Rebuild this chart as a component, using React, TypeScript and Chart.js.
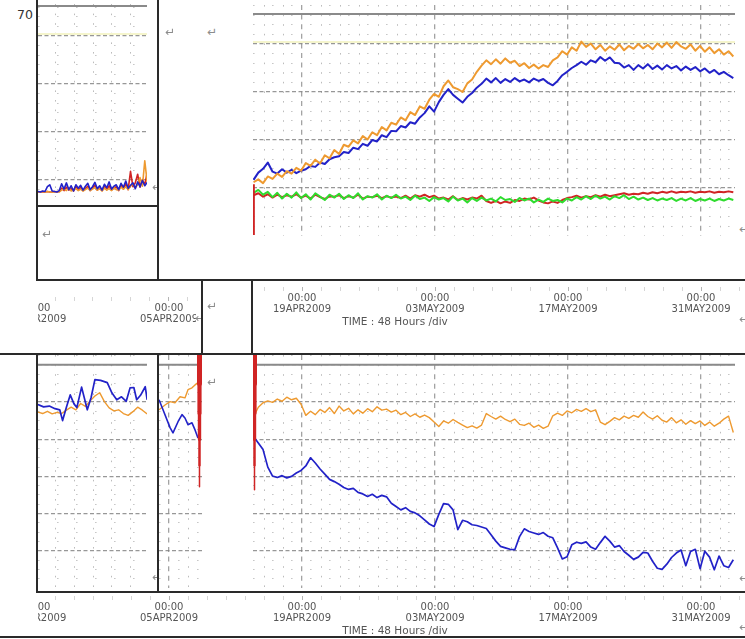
import React, { useEffect, useRef } from 'react';
import Chart from 'chart.js/auto';

// ---------------- axis text ----------------
const MAJOR_TICK_DAYS = [-28, -14, 0, 14, 28, 42]; // days from 19APR2009 00:00
const MAJOR_TICK_DATES = ['22MAR2009', '05APR2009', '19APR2009', '03MAY2009', '17MAY2009', '31MAY2009'];
const MAJOR_TICK_TIME = '00:00';
const MINOR_STEP_DAYS = 2; // 48 hours / div
const AXIS_TITLE = 'TIME : 48 Hours /div';
const CORNER_LABEL = '70';

// ---------------- limit lines ----------------
const UPPER_GRAY_LIMIT = 46.25;
const UPPER_YELLOW_LIMIT = 40.4;
const LOWER_GRAY_LIMIT = 60;

// ---------------- top-left panel (sampled every 6 h) ----------------
const TL_T0 = -27.8;
const TL_STEP = 0.25;
const tlBlue = [7.6, 7.5, 7.7, 7.6, 8.6, 9.0, 7.7, 7.6, 7.5, 7.8,
  9.2, 8.1, 9.4, 8.0, 8.8, 7.7, 9.0, 8.3, 8.9, 7.9,
  8.7, 9.3, 8.0, 8.6, 9.5, 8.2, 8.8, 7.9, 9.1, 8.4,
  9.6, 8.1, 8.7, 9.0, 8.0, 9.3, 8.5, 9.8, 8.3, 8.9,
  9.4, 8.2, 9.6, 8.6, 9.9, 8.8, 9.5];
const tlRed = [7.5, 7.5, 7.5, 7.5, 7.6, 7.5, 7.5, 7.6, 7.5, 7.6,
  8.3, 7.8, 8.5, 7.9, 8.2, 7.7, 8.6, 7.9, 8.4, 7.8,
  8.2, 8.7, 7.8, 8.4, 8.9, 7.9, 8.3, 7.8, 8.6, 8.0,
  8.8, 7.9, 8.3, 8.6, 7.8, 8.9, 8.1, 9.2, 8.0, 11.8,
  8.6, 9.4, 11.2, 8.5, 10.1, 9.0, 11.5];
const tlOrange = [7.5, 7.5, 7.6, 7.5, 7.6, 7.5, 7.5, 7.5, 7.6, 7.5,
  7.9, 8.1, 7.8, 8.3, 7.7, 8.0, 8.2, 7.8, 8.1, 7.7,
  8.0, 8.3, 7.8, 8.1, 8.4, 7.9, 8.2, 7.7, 8.3, 7.9,
  8.2, 7.8, 8.4, 8.0, 7.9, 8.5, 8.1, 8.6, 8.0, 8.7,
  9.2, 8.4, 9.0, 10.5, 8.7, 14.0, 9.6];

// ---------------- right panels (sampled every 12 h) ----------------
const R_T0 = -5.1;
const R_STEP = 0.5;
const trOrange = [11.2, 11.8, 11.0, 12.4, 11.9, 13.0, 12.3, 13.5, 13.0, 14.2,
  13.6, 15.2, 14.6, 15.9, 15.1, 16.8, 16.2, 17.9, 17.1, 19.0,
  18.6, 19.9, 19.3, 20.8, 20.1, 21.6, 21.0, 22.7, 22.0, 23.6,
  23.2, 24.7, 24.1, 25.8, 25.2, 27.0, 26.5, 28.4, 29.6, 29.0,
  31.2, 32.4, 31.0, 30.6, 30.0, 31.8, 32.6, 34.2, 35.5, 36.6,
  35.8, 36.8, 35.9, 37.0, 36.1, 36.5, 35.4, 36.0, 35.0, 35.7,
  34.9, 35.6, 35.2, 36.6, 37.2, 38.5, 37.8, 39.3, 38.6, 40.5,
  39.4, 40.1, 38.9, 39.8, 38.6, 39.5, 38.8, 39.9, 38.7, 39.6,
  39.0, 40.0, 39.1, 39.8, 38.9, 40.1, 39.3, 40.3, 39.2, 40.4,
  39.5, 39.0, 39.9, 38.6, 39.6, 38.4, 39.3, 38.1, 38.9, 37.8,
  38.5, 37.4];
const trBlue = [11.7, 13.2, 14.0, 15.3, 13.4, 13.0, 13.9, 13.2, 13.8, 13.1,
  13.6, 13.9, 14.6, 14.4, 15.3, 15.0, 16.0, 16.4, 16.6, 17.5,
  17.3, 18.4, 18.1, 19.2, 18.8, 20.0, 19.7, 21.0, 20.6, 21.9,
  21.8, 22.9, 22.6, 23.7, 23.4, 24.7, 25.6, 27.0, 25.9, 27.9,
  29.4, 30.6, 29.4, 28.6, 27.8, 29.0, 29.8, 30.9, 31.7, 32.8,
  32.0, 32.9, 31.9, 32.7, 32.1, 32.9, 32.2, 32.6, 32.0, 32.8,
  32.3, 32.7, 31.9, 31.4, 32.3, 33.5, 34.2, 35.0, 35.6, 36.3,
  35.7, 36.6, 36.2, 37.3, 36.5, 37.2, 36.1, 36.0, 35.1, 35.6,
  34.6, 35.6, 34.9, 35.8, 34.8, 35.5, 34.7, 35.6, 34.9, 35.4,
  34.5, 35.3, 34.6, 35.2, 34.3, 34.9, 34.0, 34.6, 33.7, 34.2,
  33.5, 32.9];
const trGreen = [9.0, 9.6, 8.6, 9.2, 8.1, 9.0, 7.8, 8.8, 8.0, 9.1,
  7.9, 8.7, 7.6, 8.9, 8.2, 7.5, 8.6, 8.0, 8.8, 7.7,
  8.5, 7.9, 8.9, 7.6, 8.3, 8.0, 8.7, 7.6, 8.4, 7.9,
  8.6, 7.8, 8.2, 7.5, 8.4, 7.7, 8.0, 7.3, 8.1, 7.6,
  7.9, 7.2, 8.2, 7.4, 7.8, 7.0, 7.9, 7.3, 8.0, 7.4,
  7.8, 7.2, 8.1, 7.5, 7.7, 7.1, 7.9, 7.4, 7.8, 7.0,
  7.6, 7.1, 7.8, 7.3, 7.5, 7.0, 7.8, 7.4, 8.1, 7.6,
  8.3, 7.7, 8.4, 7.8, 8.2, 7.6, 8.3, 7.9, 8.5, 7.7,
  8.2, 7.6, 8.0, 7.5, 7.9, 7.4, 7.8, 7.5, 7.9, 7.3,
  7.8, 7.4, 7.9, 7.3, 7.7, 7.4, 7.8, 7.3, 7.7, 7.4,
  7.8, 7.5];
const trRed = [8.5, 8.9, 8.2, 8.7, 8.0, 8.6, 8.1, 8.5, 8.2, 8.7,
  8.0, 8.4, 7.8, 8.6, 8.1, 7.7, 8.3, 8.2, 8.5, 7.9,
  8.3, 8.0, 8.6, 7.8, 8.2, 8.1, 8.4, 7.9, 8.3, 8.0,
  8.2, 7.9, 8.4, 7.8, 8.5, 8.2, 8.6, 8.1, 8.4, 7.8,
  8.0, 7.6, 8.3, 7.5, 7.9, 7.6, 8.0, 7.8, 8.4, 7.3,
  6.9, 7.3, 6.8, 7.2, 6.9, 7.5, 7.3, 7.8, 7.6, 8.0,
  7.4, 7.0, 6.8, 7.2, 6.9, 7.5, 7.9, 8.1, 8.4, 8.0,
  8.3, 8.1, 8.5, 8.2, 8.6, 8.3, 8.5, 8.7, 8.9, 8.6,
  8.8, 8.7, 9.0, 8.8, 9.1, 8.9, 9.2, 9.0, 9.3, 9.0,
  9.2, 9.1, 9.3, 9.0, 9.2, 9.1, 9.3, 9.0, 9.2, 9.1,
  9.3, 9.1];
const trRedSpikeDays = [-5.1, -5.1];
const trRedSpike = [0.2, 10.8];

const brOrange = [46.0, 48.6, 49.8, 50.3, 49.9, 50.8, 50.2, 51.3, 50.6, 51.0,
  49.4, 46.4, 47.5, 46.6, 48.0, 47.2, 48.5, 46.9, 48.9, 47.6,
  48.3, 46.8, 47.9, 47.0, 48.2, 47.4, 48.7, 47.8, 48.1, 47.3,
  47.8, 46.6, 47.2, 46.1, 46.8, 45.9, 46.5, 45.8, 44.6, 43.4,
  44.9, 44.3, 45.3, 44.5, 43.8, 43.1, 43.6, 43.0, 43.8, 46.9,
  46.1, 45.4, 46.2, 45.3, 44.7, 45.4, 44.0, 43.7, 44.3, 43.2,
  43.8, 42.9, 43.5, 46.3, 47.0, 46.4, 47.6, 47.1, 48.0, 47.5,
  48.2, 47.4, 47.9, 44.6, 43.9, 44.8, 45.8, 45.2, 46.2, 45.6,
  46.4, 45.9, 47.3, 46.1, 45.4, 46.3, 45.1, 44.6, 45.8, 44.4,
  45.2, 44.0, 45.0, 44.2, 44.9, 43.7, 44.6, 43.5, 44.3, 45.4,
  46.2, 41.8];
const brBlue = [40.7, 39.0, 37.2, 32.5, 30.1, 29.7, 30.2, 29.6, 30.0, 30.9,
  31.6, 32.8, 35.0, 33.6, 32.0, 30.6, 29.2, 28.6, 27.9, 27.0,
  26.5, 26.8, 25.7, 25.3, 24.6, 25.2, 24.3, 24.9, 24.5, 22.8,
  21.9, 21.0, 21.6, 20.6, 20.2, 19.4, 18.3, 17.2, 16.5, 19.8,
  22.7, 22.5, 21.0, 15.7, 18.2, 17.8, 17.0, 16.8, 16.4, 16.0,
  14.3, 12.6, 11.2, 10.8, 10.4, 10.3, 13.8, 15.9, 15.2, 14.8,
  14.4, 14.9, 13.9, 13.5, 10.8, 7.8, 8.4, 11.6, 12.3, 12.0,
  12.4, 11.0, 10.4, 12.2, 13.9, 12.6, 11.0, 11.4, 9.8, 8.8,
  7.7, 8.3, 9.6, 9.4, 7.2, 5.3, 5.0, 6.4, 8.2, 9.4,
  10.2, 6.0, 9.8, 10.4, 5.2, 9.9, 8.3, 4.9, 8.6, 6.0,
  5.5, 7.6];
const brRedDays = [-5.0, -5.0, -5.0, -5.0, -5.0, -5.0];
const brRed = [62.7, 55, 47, 40, 33, 26.4];

// ---------------- bottom-left panel ----------------
const blOrangeDays = [-27.8, -27.3, -26.8, -26.3, -25.8, -25.3, -24.8, -24.3, -23.8, -23.3, -22.8, -22.3,
  -21.8, -21.3, -20.8, -20.3, -19.8, -19.3, -18.8, -18.3, -17.8, -17.3, -16.8, -16.3];
const blOrange = [47.3, 46.9, 47.5, 46.8, 47.2, 46.9, 47.8, 48.6, 47.9, 49.6, 48.8, 50.3,
  51.6, 52.5, 50.1, 48.4, 47.6, 47.9, 46.9, 46.4, 47.4, 48.6, 47.8, 46.8];
const blBlueDays = [-27.8, -27.2, -26.6, -26.0, -25.5, -25.2, -24.8, -24.4, -24.0, -23.7, -23.2, -22.6, -22.2,
  -21.8, -21.2, -20.5, -20.0, -19.5, -19.0, -18.5, -18.1, -17.7, -17.4, -17.0, -16.5, -16.3];
const blBlue = [49.3, 48.7, 48.9, 48.2, 47.9, 45.0, 48.6, 51.9, 49.5, 48.5, 54.0, 47.9, 51.2,
  56.0, 55.8, 55.2, 52.4, 50.6, 51.4, 50.2, 53.8, 53.9, 50.6, 51.8, 54.1, 50.6];

// ---------------- bottom-middle panel ----------------
const bmOrangeDays = [-15.05, -14.42, -13.89, -13.37, -12.84, -12.32, -12.0, -11.58, -11.26, -10.95];
const bmOrange = [47.9, 49.2, 50.1, 49.8, 51.4, 51.1, 53.3, 53.8, 54.6, 55.2];
const bmBlueDays = [-15.05, -14.63, -13.89, -13.58, -13.05, -12.63, -12.32, -12.0, -11.58, -11.26, -10.95];
const bmBlue = [50.6, 47.9, 43.1, 41.7, 44.7, 46.6, 45.7, 43.9, 44.4, 42.5, 40.3];
const bmRedDays = [-10.79, -10.79, -10.79, -10.79, -10.79, -10.79];
const bmRed = [62.7, 55, 47, 40, 33, 27.2];

// ---------------- styling / geometry ----------------
const DAY0_X = 302;
const PX_PER_DAY = 9.5;
const dayAtPx = (px: number) => (px - DAY0_X) / PX_PER_DAY;
const FONT = "'DejaVu Sans', sans-serif";
const WEDGE_WIDTHS = [5, 4.2, 3.4, 2.5, 1.5];
const C_ORANGE = '#ee9a30';
const C_BLUE = '#2222c8';
const C_GREEN = '#2edc2e';
const C_RED = '#d02424';
const C_GRAY = '#8a8a8a';
const C_YELLOW = '#f5f5cc';
const STRIP_H = 64;
const STRIP_AXIS_H = 28; // tick 4 + padding 2 + 2 lines * 11

const isMultiple = (v: number, m: number) => Math.abs(v / m - Math.round(v / m)) < 1e-6;
function stepValues(from: number, to: number, step: number) {
  const out: number[] = [];
  for (let k = Math.ceil(from / step - 1e-9); k * step <= to + 1e-9; k++) out.push(+(k * step).toFixed(4));
  return out;
}
const timeBase = (t0: number, step: number, n: number) => Array.from({ length: n }, (_, i) => +(t0 + i * step).toFixed(3));

type Series = { days?: number[]; values?: number[]; hLine?: number; color: string; width: number; segWidths?: number[] };

function PlotPanel({ left, top, width, height, yMin, yMax, yMinorStep, series }: any) {
  const ref = useRef<HTMLCanvasElement>(null);
  useEffect(() => {
    const xMin = dayAtPx(left);
    const xMax = dayAtPx(left + width);
    const xTicks = stepValues(xMin, xMax, MINOR_STEP_DAYS);
    const yTicks = stepValues(yMin, yMax, yMinorStep).filter((v) => v > yMin + 0.01);
    const xMajor = (v: number) => v !== undefined && isMultiple(v, 14);
    const yMajor = (v: number) => v !== undefined && isMultiple(v, 10);
    const datasets = series.map((s: Series) => ({
      data: s.hLine !== undefined
        ? [{ x: xMin, y: s.hLine }, { x: xMax, y: s.hLine }]
        : (s.days as number[]).map((d, i) => ({ x: d, y: (s.values as number[])[i] })),
      borderColor: s.color,
      borderWidth: s.width,
      pointRadius: 0,
      tension: 0,
      fill: false,
      borderCapStyle: 'butt',
      borderJoinStyle: 'round',
      segment: s.segWidths ? { borderWidth: (c: any) => (s.segWidths as number[])[c.p0DataIndex] } : undefined,
    }));
    const chart = new Chart(ref.current as HTMLCanvasElement, {
      type: 'line',
      data: { datasets },
      options: {
        responsive: false,
        animation: false,
        devicePixelRatio: 1,
        events: [],
        layout: { padding: 0, autoPadding: false },
        plugins: { legend: { display: false }, tooltip: { enabled: false } },
        scales: {
          x: {
            type: 'linear', min: xMin, max: xMax, bounds: 'data',
            afterBuildTicks: (axis: any) => { axis.ticks = xTicks.map((value) => ({ value })); },
            ticks: { display: false },
            grid: {
              drawTicks: false,
              color: (c: any) => (xMajor(c.tick?.value) ? 'rgba(140,140,140,0.8)' : 'rgba(160,160,160,0.7)'),
              lineWidth: (c: any) => (xMajor(c.tick?.value) ? 1.3 : 1),
            },
            border: { display: false, dash: (c: any) => (xMajor(c.tick?.value) ? [5, 4.6] : [1.6, 8]) },
          },
          y: {
            type: 'linear', min: yMin, max: yMax, bounds: 'data',
            afterBuildTicks: (axis: any) => { axis.ticks = yTicks.map((value) => ({ value })); },
            ticks: { display: false },
            grid: {
              drawTicks: false,
              color: (c: any) => (yMajor(c.tick?.value) ? 'rgba(125,125,125,0.8)' : 'rgba(175,175,175,0.7)'),
              lineWidth: (c: any) => (yMajor(c.tick?.value) ? 1.3 : 1),
            },
            border: { display: false, dash: (c: any) => (yMajor(c.tick?.value) ? [4, 2.5] : [1.6, 17.4]) },
          },
        },
      },
    } as any);
    return () => chart.destroy();
  }, []);
  return <canvas ref={ref} width={width} height={height} style={{ position: 'absolute', left, top, width, height }} />;
}

// Label row: the tick marks start at y = tickTop; everything above is an empty chart area.
function AxisStrip({ left, tickTop, width }: any) {
  const ref = useRef<HTMLCanvasElement>(null);
  useEffect(() => {
    const xMin = dayAtPx(left);
    const xMax = dayAtPx(left + width);
    const xTicks = stepValues(Math.floor(xMin / MINOR_STEP_DAYS) * MINOR_STEP_DAYS, xMax, MINOR_STEP_DAYS);
    const majorIndex = (v: number) => MAJOR_TICK_DAYS.findIndex((d) => Math.abs(d - v) < 1e-6);
    const chart = new Chart(ref.current as HTMLCanvasElement, {
      type: 'line',
      data: { datasets: [] },
      options: {
        responsive: false,
        animation: false,
        devicePixelRatio: 1,
        events: [],
        layout: { padding: 0, autoPadding: false },
        plugins: { legend: { display: false }, tooltip: { enabled: false } },
        scales: {
          x: {
            type: 'linear', position: 'bottom', min: xMin, max: xMax, bounds: 'data',
            afterBuildTicks: (axis: any) => { axis.ticks = xTicks.map((value) => ({ value })); },
            afterFit: (axis: any) => { axis.paddingLeft = 0; axis.paddingRight = 0; },
            ticks: {
              autoSkip: false, maxRotation: 0, minRotation: 0, padding: 2, color: '#555',
              font: { family: FONT, size: 10, lineHeight: 1.1 },
              callback: (v: any) => {
                const k = majorIndex(Number(v));
                return k >= 0 ? [MAJOR_TICK_TIME, MAJOR_TICK_DATES[k]] : '';
              },
            },
            grid: {
              drawOnChartArea: false, drawTicks: true, tickLength: 4, tickWidth: 1,
              tickColor: (c: any) => (majorIndex(c.tick?.value) >= 0 ? '#b4b4b4' : '#d6d6d6'),
            },
            border: { display: false },
          },
          y: { display: false },
        },
      },
    } as any);
    return () => chart.destroy();
  }, []);
  const top = tickTop - (STRIP_H - STRIP_AXIS_H);
  return <canvas ref={ref} width={width} height={STRIP_H} style={{ position: 'absolute', left, top, width, height: STRIP_H }} />;
}

const Mark = ({ x, y, clip }: { x: number; y: number; clip?: number }) => (
  <div style={{ position: 'absolute', left: x, top: y - 8, width: clip ?? 14, height: 16, overflow: 'hidden',
    color: '#8c8c8c', fontSize: 12, lineHeight: '16px', fontFamily: FONT, whiteSpace: 'nowrap' }}>↵</div>
);

const RULES = [
  [36, 0, 2, 281], [157, 0, 2, 281], [37, 205, 121, 2], [36, 279, 709, 2],
  [201, 280, 2, 74], [251, 280, 2, 74], [0, 353, 745, 2],
  [36, 354, 2, 239], [157, 354, 2, 239], [36, 591, 709, 2], [0, 636, 745, 2],
];

export default function App() {
  const tlDays = timeBase(TL_T0, TL_STEP, tlBlue.length);
  const rDays = timeBase(R_T0, R_STEP, trOrange.length);
  const topLimits: Series[] = [
    { hLine: UPPER_YELLOW_LIMIT, color: C_YELLOW, width: 2 },
    { hLine: UPPER_GRAY_LIMIT, color: C_GRAY, width: 2 },
  ];
  const bottomLimits: Series[] = [{ hLine: LOWER_GRAY_LIMIT, color: C_GRAY, width: 2 }];

  return (
    <div style={{ position: 'absolute', left: 0, top: 0, width: 745, height: 639, overflow: 'hidden', background: '#fff', fontFamily: FONT }}>
      <PlotPanel left={38} top={4} width={109} height={193} yMin={31 / 4.8} yMax={224 / 4.8} yMinorStep={2}
        series={[
          { days: tlDays, values: tlBlue, color: C_BLUE, width: 1.6 },
          { days: tlDays, values: tlOrange, color: C_ORANGE, width: 1.6 },
          { days: tlDays, values: tlRed, color: C_RED, width: 1.6 },
          ...topLimits,
        ]} />
      <PlotPanel left={253} top={5} width={482} height={231} yMin={0} yMax={231 / 4.8} yMinorStep={2}
        series={[
          { days: trRedSpikeDays, values: trRedSpike, color: C_RED, width: 2.6 },
          { days: rDays, values: trOrange, color: C_ORANGE, width: 2 },
          { days: rDays, values: trBlue, color: C_BLUE, width: 2 },
          { days: rDays, values: trGreen, color: C_GREEN, width: 2 },
          { days: rDays, values: trRed, color: C_RED, width: 2 },
          ...topLimits,
        ]} />
      <PlotPanel left={38} top={355} width={109} height={233} yMin={0} yMax={233 / 3.72} yMinorStep={2.5}
        series={[
          { days: blBlueDays, values: blBlue, color: C_BLUE, width: 1.7 },
          { days: blOrangeDays, values: blOrange, color: C_ORANGE, width: 1.4 },
          ...bottomLimits,
        ]} />
      <PlotPanel left={159} top={355} width={43} height={233} yMin={0} yMax={233 / 3.72} yMinorStep={2.5}
        series={[
          { days: bmRedDays, values: bmRed, color: C_RED, width: 4, segWidths: WEDGE_WIDTHS },
          { days: bmBlueDays, values: bmBlue, color: C_BLUE, width: 1.6 },
          { days: bmOrangeDays, values: bmOrange, color: C_ORANGE, width: 1.4 },
          ...bottomLimits,
        ]} />
      <PlotPanel left={253} top={355} width={482} height={233} yMin={0} yMax={233 / 3.72} yMinorStep={2.5}
        series={[
          { days: brRedDays, values: brRed, color: C_RED, width: 4, segWidths: WEDGE_WIDTHS },
          { days: rDays, values: brBlue, color: C_BLUE, width: 1.7 },
          { days: rDays, values: brOrange, color: C_ORANGE, width: 1.4 },
          ...bottomLimits,
        ]} />

      <AxisStrip left={38} tickTop={299} width={158} />
      <AxisStrip left={253} tickTop={289} width={492} />
      <AxisStrip left={38} tickTop={598} width={707} />

      {RULES.map(([l, t, w, h], i) => (
        <div key={i} style={{ position: 'absolute', left: l, top: t, width: w, height: h, background: '#2a2a2a' }} />
      ))}

      <div style={{ position: 'absolute', left: 17, top: 8, fontSize: 12.5, lineHeight: '14px', color: '#333' }}>{CORNER_LABEL}</div>
      <div style={{ position: 'absolute', left: 395, top: 314, transform: 'translateX(-50%)', fontSize: 10.5, lineHeight: '14px', color: '#555', whiteSpace: 'nowrap' }}>{AXIS_TITLE}</div>
      <div style={{ position: 'absolute', left: 395, top: 623, transform: 'translateX(-50%)', fontSize: 10.5, lineHeight: '14px', color: '#555', whiteSpace: 'nowrap' }}>{AXIS_TITLE}</div>

      <Mark x={165} y={32} />
      <Mark x={207} y={32} />
      <Mark x={42} y={234} />
      <Mark x={207} y={306} />
      <Mark x={207} y={382} />
      <Mark x={152} y={187} clip={5} />
      <Mark x={195} y={318} clip={6} />
      <Mark x={152} y={577} clip={5} />
      <Mark x={739} y={229} />
      <Mark x={739} y={319} />
      <Mark x={739} y={578} />
      <Mark x={739} y={627} />
    </div>
  );
}
